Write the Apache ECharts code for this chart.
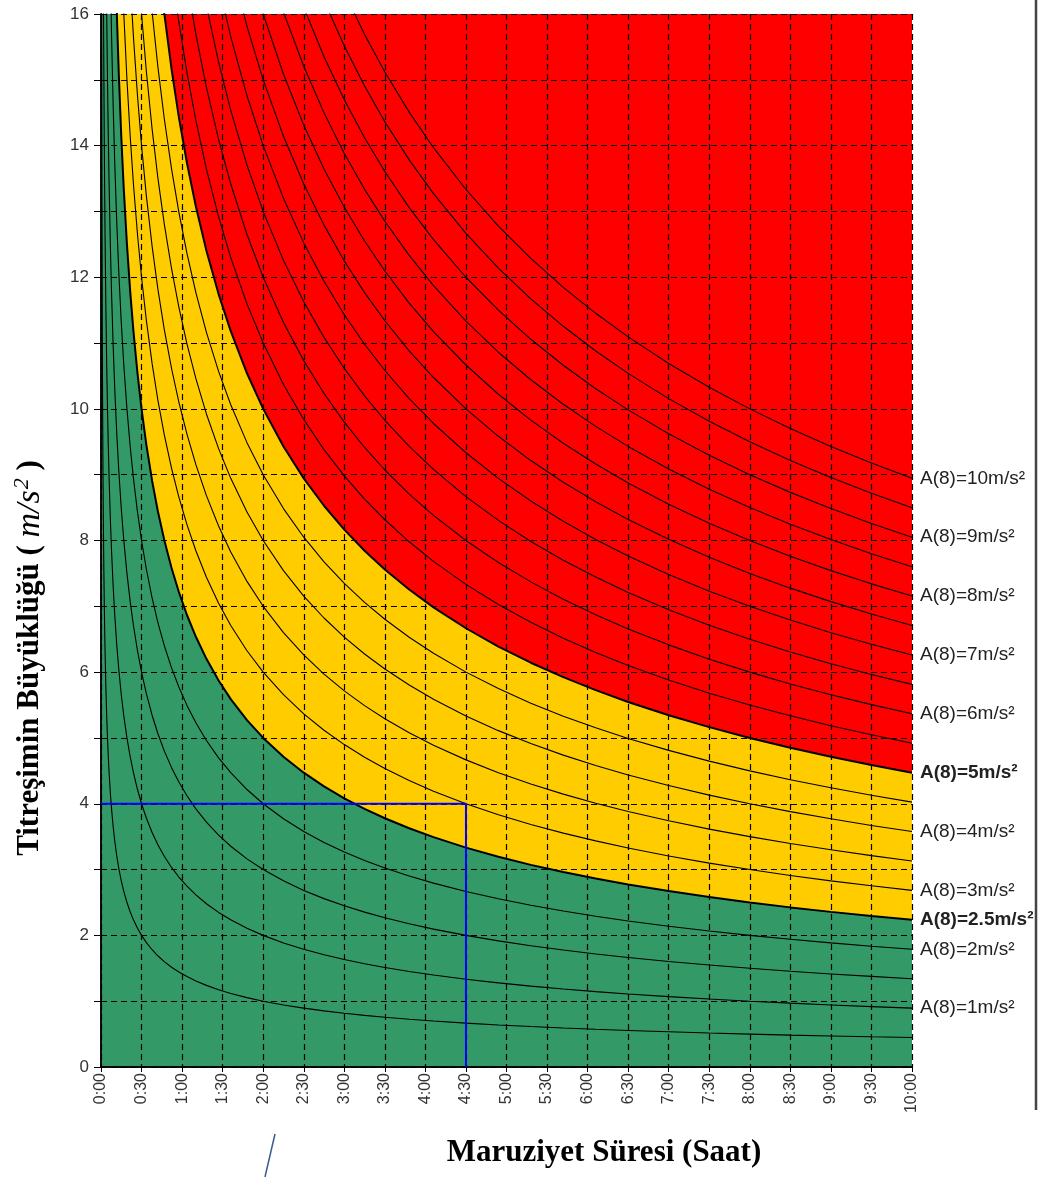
<!DOCTYPE html>
<html><head><meta charset="utf-8">
<script src="https://cdn.jsdelivr.net/npm/echarts@6/dist/echarts.min.js"></script>
<style>html,body{margin:0;padding:0;background:#fff}#c{width:1040px;height:1177px}</style>
</head><body><div id="c"></div>
<script>
// A(8) daily exposure levels drawn as iso-curves (m/s²)
const levels = [0.5,1,1.5,2,2.5,3,3.5,4,4.5,5,5.5,6,6.5,7,7.5,8,8.5,9,9.5,10];
const labelledLevels = [1,2,2.5,3,4,5,6,7,8,9,10];
const boundaryLevels = [2.5,5];           // green/yellow and yellow/red limits
const referenceHours = 8;                 // A(8) reference duration
// exposure durations (hours) at which each curve is evaluated
const sampleTimes = [0.003,0.004,0.005,0.0065,0.008,0.01,0.0125,0.015,0.0175,0.02,0.025,0.03,0.035,0.04,0.045,0.05,0.06,0.07,0.08,0.09,0.1,0.115,0.13,0.15,0.17,0.195,0.22,0.25,0.28,0.32,0.36,0.4,0.45,0.5,0.56,0.63,0.7,0.78,0.87,0.96,1.06,1.17,1.3,1.45,1.6,1.8,2,2.25,2.5,2.75,3,3.25,3.5,3.8,4.1,4.5,4.9,5.3,5.7,6.1,6.5,7,7.5,8,8.5,9,9.5,10];
const xTickLabels = ['0:00','0:30','1:00','1:30','2:00','2:30','3:00','3:30','4:00','4:30','5:00','5:30','6:00','6:30','7:00','7:30','8:00','8:30','9:00','9:30','10:00'];
const yTickLabels = ['0','','2','','4','','6','','8','','10','','12','','14','','16'];
const examplePath = [[0,4],[4.5,4],[4.5,0]];  // blue example: 4 m/s² for 4:30

function curve(A){ return sampleTimes.map(t => [t, A*Math.sqrt(referenceHours/t)]); }

const FS = '"Liberation Sans", Arial, sans-serif';
const SERIF = '"Liberation Serif", "Times New Roman", serif';
const series = [];
series.push({type:'line', data:curve(boundaryLevels[1]), symbol:'none', silent:true, z:1,
  lineStyle:{width:0}, areaStyle:{color:'#FF0000', opacity:1, origin:'end'}});
series.push({type:'line', data:curve(boundaryLevels[1]), symbol:'none', silent:true, z:1,
  lineStyle:{width:0}, areaStyle:{color:'#FFCC00', opacity:1, origin:'start'}});
series.push({type:'line', data:curve(boundaryLevels[0]), symbol:'none', silent:true, z:2,
  lineStyle:{width:0}, areaStyle:{color:'#339966', opacity:1, origin:'start'}});
levels.forEach(A => {
  const isB = boundaryLevels.includes(A);
  const lab = labelledLevels.includes(A);
  series.push({type:'line', data:curve(A), symbol:'none', silent:true, z:4,
    lineStyle:{color:'#000', width: isB ? 2 : 1.1},
    endLabel:{show:lab, distance:8, formatter:'A(8)=' + A + 'm/s²',
      fontFamily:FS, fontSize:19, color:'#222', fontWeight: isB ? 'bold' : 'normal'}});
});
series.push({type:'line', data:examplePath, symbol:'none', silent:true, z:6,
  lineStyle:{color:'#0000FF', width:2}});

const chart = echarts.init(document.getElementById('c'));
chart.setOption({
  animation:false,
  backgroundColor:'#fff',
  grid:{left:101, right:128, top:14, bottom:110},
  xAxis:[{type:'value', min:0, max:10, interval:0.5, z:3,
    axisLine:{show:true, lineStyle:{color:'#000', width:1.5}},
    axisTick:{show:true, length:5, lineStyle:{color:'#000'}},
    axisLabel:{rotate:90, fontFamily:FS, fontSize:16, color:'#333', margin:6,
      formatter:v => xTickLabels[Math.round(v/0.5)]},
    splitLine:{show:true, lineStyle:{color:'#000', type:[6,4], width:1.2}}},
    {type:'value', position:'top', min:0, max:10, z:3,
    axisLine:{show:true, lineStyle:{color:'#000', width:1.5}},
    axisTick:{show:false}, axisLabel:{show:false}, splitLine:{show:false}}],
  yAxis:[{type:'value', min:0, max:16, interval:1, z:3,
    axisLine:{show:true, lineStyle:{color:'#000', width:1.5}},
    axisTick:{show:true, length:7, lineStyle:{color:'#000'}},
    axisLabel:{fontFamily:FS, fontSize:17, color:'#333', margin:12,
      formatter:v => yTickLabels[Math.round(v)]},
    splitLine:{show:true, lineStyle:{color:'#000', type:[6,4], width:1.2}}},
    {type:'value', position:'right', min:0, max:16, z:3,
    axisLine:{show:true, lineStyle:{color:'#000', width:1.5}},
    axisTick:{show:false}, axisLabel:{show:false}, splitLine:{show:false}}],
  series: series,
  graphic:[
    {type:'text', x:30, y:658, rotation:Math.PI/2, z:10,
      style:{text:'{a|Titreşimin Büyüklüğü ( }{b|m/s}{c|2}{a| )}', align:'center', verticalAlign:'middle',
        rich:{a:{fontFamily:SERIF, fontWeight:'bold', fontSize:31, fill:'#000', lineHeight:40},
              b:{fontFamily:SERIF, fontStyle:'italic', fontSize:34, fill:'#000', lineHeight:40},
              c:{fontFamily:SERIF, fontStyle:'italic', fontSize:22, fill:'#000', lineHeight:40, padding:[0,0,16,1]}}}},
    {type:'text', x:604, y:1153, z:10,
      style:{text:'Maruziyet Süresi (Saat)', align:'center', verticalAlign:'middle',
        font:'bold 31px "Liberation Serif", "Times New Roman", serif', fill:'#000'}},
    {type:'line', z:10, shape:{x1:275, y1:1134, x2:265, y2:1177}, style:{stroke:'#3a5a8c', lineWidth:1.5}},
    {type:'line', z:10, shape:{x1:1036, y1:0, x2:1036, y2:1110}, style:{stroke:'#444', lineWidth:2.5}}
  ]
});
</script></body></html>
